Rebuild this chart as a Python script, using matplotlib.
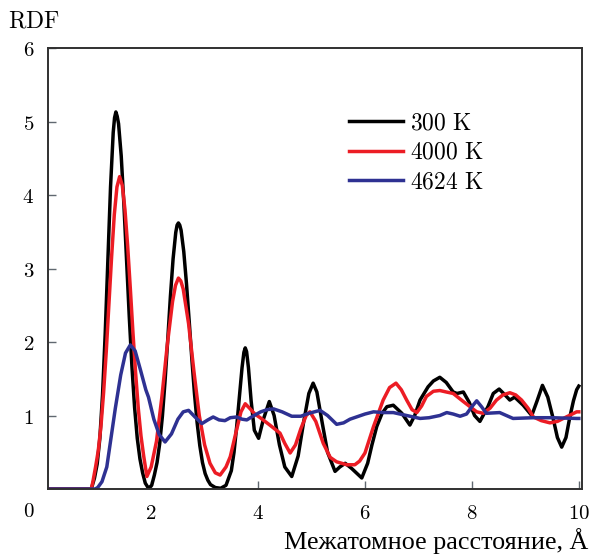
import matplotlib
matplotlib.use("Agg")
import matplotlib.pyplot as plt

plt.rcParams['mathtext.fontset'] = 'cm'

# RDF curves
x_300 = [0.0, 0.88, 0.94, 0.99, 1.04, 1.09, 1.14, 1.19, 1.24, 1.29, 1.315, 1.34, 1.365, 1.39,
         1.44, 1.49, 1.54, 1.59, 1.64, 1.69, 1.74, 1.79, 1.84, 1.89, 1.95, 2.01, 2.06, 2.11,
         2.16, 2.21, 2.26, 2.31, 2.36, 2.41, 2.46, 2.485, 2.51, 2.535, 2.56, 2.61, 2.66, 2.71,
         2.76, 2.81, 2.86, 2.91, 2.96, 3.01, 3.06, 3.11, 3.2, 3.3, 3.4, 3.5, 3.55, 3.6, 3.65,
         3.7, 3.735, 3.76, 3.785, 3.82, 3.87, 3.93, 4.01, 4.1, 4.21, 4.3, 4.4, 4.5, 4.63,
         4.75, 4.85, 4.95, 5.03, 5.1, 5.2, 5.3, 5.44, 5.53, 5.63, 5.75, 5.94, 6.05, 6.13,
         6.22, 6.32, 6.41, 6.53, 6.69, 6.84, 6.93, 7.03, 7.18, 7.28, 7.4, 7.52, 7.65, 7.72,
         7.84, 7.95, 8.05, 8.15, 8.3, 8.4, 8.51, 8.62, 8.71, 8.8, 8.96, 9.12, 9.22, 9.32,
         9.42, 9.52, 9.6, 9.68, 9.76, 9.83, 9.9, 9.96, 10.0]
y_300 = [0.0, 0.0, 0.15, 0.34, 0.69, 1.28, 2.11, 3.11, 4.11, 4.85, 5.05, 5.13, 5.07, 4.97,
         4.53, 3.87, 3.11, 2.35, 1.67, 1.11, 0.69, 0.41, 0.22, 0.08, 0.01, 0.05, 0.19, 0.36,
         0.62, 0.99, 1.47, 2.03, 2.62, 3.13, 3.49, 3.59, 3.62, 3.59, 3.52, 3.23, 2.8, 2.3,
         1.78, 1.3, 0.9, 0.59, 0.36, 0.21, 0.12, 0.06, 0.02, 0.01, 0.05, 0.25, 0.5, 0.85,
         1.25, 1.65, 1.86, 1.92, 1.87, 1.65, 1.2, 0.8, 0.69, 0.95, 1.19, 1.0, 0.6, 0.3, 0.17,
         0.45, 0.9, 1.3, 1.44, 1.32, 0.9, 0.5, 0.24, 0.3, 0.35, 0.28, 0.15, 0.35, 0.6, 0.85,
         1.03, 1.12, 1.14, 1.03, 0.87, 1.0, 1.21, 1.39, 1.47, 1.52, 1.45, 1.32, 1.3, 1.32,
         1.18, 1.0, 0.92, 1.12, 1.3, 1.36, 1.28, 1.21, 1.25, 1.14, 1.0, 1.2, 1.41, 1.25,
         0.96, 0.7, 0.57, 0.7, 0.97, 1.2, 1.35, 1.4]

x_4000 = [0.0, 0.88, 0.91, 0.96, 1.01, 1.06, 1.11, 1.16, 1.21, 1.26, 1.31, 1.36, 1.41, 1.46,
          1.51, 1.56, 1.61, 1.66, 1.71, 1.76, 1.81, 1.86, 1.92, 2.0, 2.1, 2.2, 2.3, 2.4, 2.455,
          2.51, 2.555, 2.6, 2.7, 2.8, 2.9, 3.0, 3.1, 3.2, 3.29, 3.4, 3.48, 3.58, 3.68, 3.76,
          3.84, 3.94, 4.04, 4.22, 4.41, 4.5, 4.6, 4.7, 4.8, 4.9, 4.97, 5.08, 5.22, 5.35, 5.47,
          5.66, 5.81, 5.9, 6.0, 6.16, 6.34, 6.46, 6.58, 6.68, 6.78, 6.88, 6.97, 7.06, 7.15,
          7.28, 7.4, 7.52, 7.65, 7.84, 8.0, 8.09, 8.21, 8.34, 8.46, 8.58, 8.71, 8.82, 8.93,
          9.05, 9.15, 9.3, 9.46, 9.6, 9.71, 9.85, 9.96, 10.0]
y_4000 = [0.0, 0.0, 0.1, 0.3, 0.52, 0.85, 1.31, 1.87, 2.52, 3.16, 3.73, 4.11, 4.25, 4.13,
          3.8, 3.31, 2.73, 2.12, 1.57, 1.09, 0.72, 0.45, 0.17, 0.3, 0.65, 1.25, 1.95, 2.55,
          2.77, 2.87, 2.83, 2.72, 2.25, 1.6, 1.0, 0.6, 0.35, 0.22, 0.19, 0.3, 0.44, 0.75,
          1.05, 1.16, 1.1, 1.02, 0.97, 0.87, 0.76, 0.62, 0.49, 0.6, 0.82, 1.0, 1.05, 0.92,
          0.62, 0.43, 0.37, 0.33, 0.33, 0.38, 0.49, 0.85, 1.21, 1.38, 1.44, 1.35, 1.21, 1.08,
          1.04, 1.13, 1.26, 1.33, 1.34, 1.32, 1.3, 1.19, 1.1, 1.05, 1.03, 1.1, 1.21, 1.28,
          1.31, 1.28, 1.21, 1.1, 0.98, 0.93, 0.9, 0.92, 0.96, 1.01, 1.05, 1.05]

x_4624 = [0.0, 0.95, 1.0, 1.08, 1.17, 1.23, 1.33, 1.43, 1.52, 1.61, 1.7, 1.8, 1.9, 1.95,
          2.05, 2.15, 2.26, 2.38, 2.5, 2.6, 2.7, 2.82, 2.95, 3.06, 3.16, 3.27, 3.38, 3.48,
          3.6, 3.7, 3.79, 3.9, 4.05, 4.17, 4.29, 4.45, 4.63, 4.8, 4.95, 5.16, 5.3, 5.47,
          5.6, 5.72, 5.84, 6.0, 6.16, 6.35, 6.53, 6.78, 7.03, 7.2, 7.4, 7.53, 7.65, 7.78,
          7.9, 8.0, 8.09, 8.18, 8.27, 8.52, 8.77, 9.15, 9.5, 9.96, 10.0]
y_4624 = [0.0, 0.0, 0.02, 0.1, 0.3, 0.6, 1.1, 1.55, 1.85, 1.96, 1.88, 1.62, 1.35, 1.25,
          0.95, 0.74, 0.64, 0.75, 0.95, 1.05, 1.07, 0.98, 0.89, 0.94, 0.98, 0.94, 0.93, 0.97,
          0.98, 0.95, 0.94, 0.99, 1.05, 1.08, 1.09, 1.05, 0.99, 0.99, 1.03, 1.07, 1.0, 0.88,
          0.9, 0.95, 0.98, 1.02, 1.05, 1.04, 1.04, 1.0, 0.96, 0.97, 1.0, 1.04, 1.02, 0.99,
          1.02, 1.12, 1.2, 1.12, 1.03, 1.04, 0.96, 0.97, 0.97, 0.96, 0.96]

series = [
    (x_300, y_300, '#000000', r'$\mathrm{300\ K}$'),
    (x_4000, y_4000, '#ec1c24', r'$\mathrm{4000\ K}$'),
    (x_4624, y_4624, '#2e3192', r'$\mathrm{4624\ K}$'),
]

x_ticks = [2, 4, 6, 8, 10]
y_ticks = [1, 2, 3, 4, 5, 6]

fig = plt.figure(figsize=(5.94, 5.55), dpi=100)
ax = fig.add_axes([0.0808, 0.1189, 0.8990, 0.7946])

for xs, ys, color, label in series:
    ax.plot(xs, ys, color=color, lw=2.5, label=label, solid_joinstyle='round')

ax.set_xlim(0.07, 10.06)
ax.set_ylim(0, 6)

ax.set_xticks(x_ticks)
ax.set_xticklabels([r'$%d$' % t for t in x_ticks])
ax.set_yticks(y_ticks)
ax.set_yticklabels([r'$%d$' % t for t in y_ticks])
ax.tick_params(direction='in', length=6, width=1, color='#606870', labelsize=15, pad=10)

for sp in ax.spines.values():
    sp.set_color('#303030')
    sp.set_linewidth(1.4)

ax.text(-0.035, -0.05, r'$0$', transform=ax.transAxes, fontsize=15, ha='center', va='center')
fig.text(0.013, 0.963, r'$\mathrm{RDF}$', fontsize=17, ha='left', va='center')
fig.text(0.99, 0.025, 'Межатомное расстояние, Å', fontsize=18.8, ha='right', va='center',
         family='Liberation Serif')

leg = ax.legend(loc='upper left', bbox_to_anchor=(0.563, 0.858), frameon=False, fontsize=17,
                handlelength=2.3, handletextpad=0.3, labelspacing=0.22, borderpad=0,
                borderaxespad=0)

fig.savefig('out.png', dpi=100)
